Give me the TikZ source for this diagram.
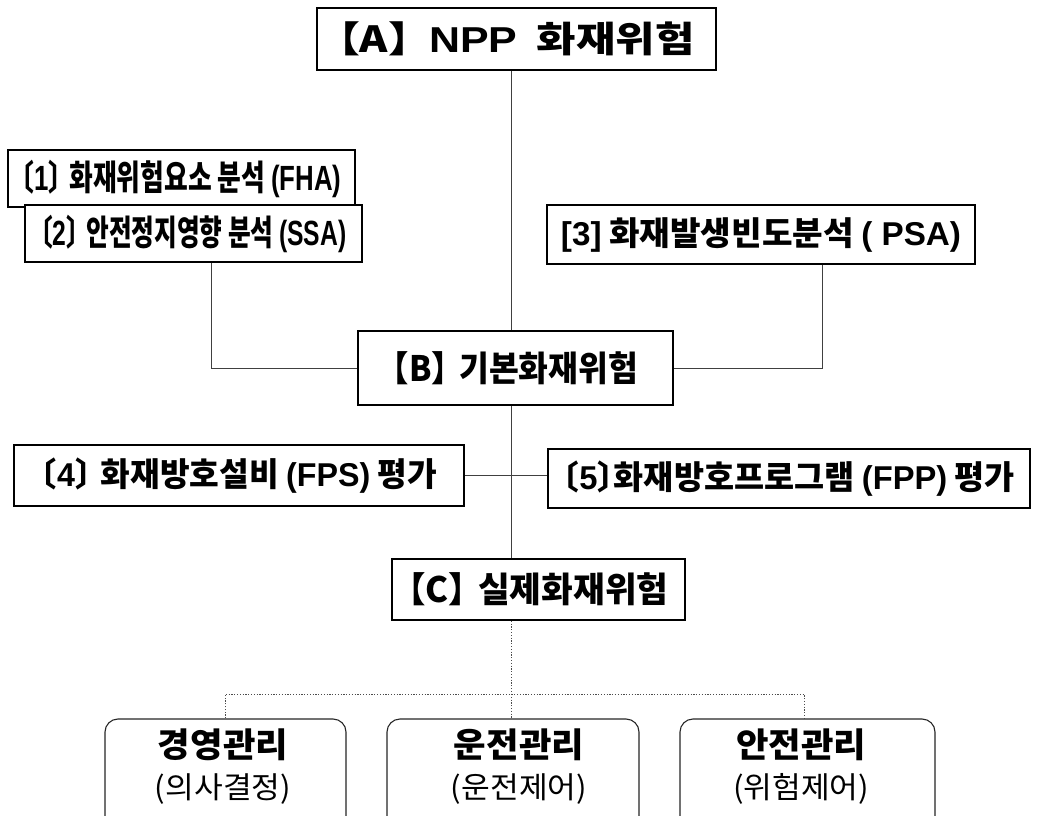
\documentclass[tikz,border=0pt]{standalone}
\usepackage{fontspec}
\usepackage{graphicx}
\setmainfont{Noto Sans CJK KR}[RawFeature=+halt]
\newfontfamily\la{Liberation Sans}
\newcommand{\fitw}[2]{\resizebox{#1}{\height}{#2}}
\begin{document}
\begin{tikzpicture}[x=1pt,y=-1pt,
  box/.style={draw, line width=1.6pt, fill=white, inner sep=0pt, font=\bfseries\fontsize{33}{38}\selectfont},
  tallbox/.style={box, font=\bfseries\fontsize{35}{40}\selectfont},
  bigbox/.style={box, font=\bfseries\fontsize{36}{42}\selectfont},
  midbox/.style={box, font=\bfseries\fontsize{35}{40}\selectfont},
  mbox/.style={draw, line width=1.1pt, black!85, rounded corners=13pt, fill=white, inner sep=0pt},
  mtitle/.style={inner sep=0pt, font=\bfseries\fontsize{34}{40}\selectfont},
  msub/.style={inner sep=0pt, font=\fontsize{30}{36}\selectfont},
  conn/.style={line width=0.7pt, black!75},
  dotc/.style={line width=0.7pt, black!70, dash pattern=on 1.2pt off 1.6pt}]
\useasboundingbox (0,0) rectangle (1037,816);
\clip (0,0) rectangle (1037,816);
% trunk coordinates
\coordinate (t) at (511,0);
\coordinate (l2) at (211,0);
\coordinate (r3) at (822,0);
\coordinate (hl) at (225,694);
\coordinate (hm) at (511,694);
\coordinate (hr) at (804,694);
% nodes
\node[bigbox, minimum width=399pt, minimum height=62pt] (A) at (516.5,39) {\fitw{356pt}{【A】\hspace{0.45em}{\la NPP}\hspace{0.45em}화재위험}};
\node[tallbox, minimum width=347pt, minimum height=57pt] (S1) at (181.5,178.5) {\fitw{320pt}{〔{\la 1}〕\hspace{0.3em}화재위험요소 분석 {\la (FHA)}}};
\node[tallbox, minimum width=337pt, minimum height=57pt] (S2) at (193.5,233.5) {\fitw{306pt}{〔{\la 2}〕\hspace{0.3em}안전정지영향 분석 {\la (SSA)}}};
\node[box, minimum width=428pt, minimum height=59pt] (S3) at (761,234.5) {\fitw{400pt}{{\la [3]} 화재발생빈도분석 {\la ( PSA)}}};
\node[midbox, minimum width=315pt, minimum height=74pt] (B) at (515.5,368) {\fitw{245pt}{【B】\hspace{0.35em}기본화재위험}};
\node[box, minimum width=450pt, minimum height=61pt] (F4) at (239,475.5) {\fitw{396pt}{〔{\la 4}〕\hspace{0.3em}화재방호설비 {\la (FPS)} 평가}};
\node[box, minimum width=482pt, minimum height=59pt] (F5) at (789,478.5) {\fitw{452pt}{〔{\la 5}〕화재방호프로그램 {\la (FPP)} 평가}};
\node[midbox, minimum width=293pt, minimum height=61pt] (C) at (538.5,589.5) {\fitw{260pt}{【C】\hspace{0.35em}실제화재위험}};
\node[mbox, minimum width=241pt, minimum height=112pt] (M1) at (225.5,775) {};
\node[mbox, minimum width=252pt, minimum height=112pt] (M2) at (513,775) {};
\node[mbox, minimum width=255pt, minimum height=112pt] (M3) at (807.5,775) {};
\node[mtitle] (M1t) at (223,745) {\fitw{130pt}{경영관리}};
\node[msub] (M1s) at (223,789) {\fitw{136pt}{(의사결정)}};
\node[mtitle] (M2t) at (519,745) {\fitw{130pt}{운전관리}};
\node[msub] (M2s) at (519,789) {\fitw{136pt}{(운전제어)}};
\node[mtitle] (M3t) at (801,745) {\fitw{130pt}{안전관리}};
\node[msub] (M3s) at (801,789) {\fitw{136pt}{(위험제어)}};
% connectors
\draw[conn] (A.south -| t) -- (B.north -| t);
\draw[conn] (B.south -| t) -- (C.north -| t);
\draw[conn] (S2.south -| l2) |- (B.west);
\draw[conn] (S3.south -| r3) |- (B.east);
\draw[conn] (F4.east) -- (F4.east -| F5.west);
\draw[dotc] (C.south -| t) -- (hm);
\draw[dotc] (M1.north -| hl) -- (hl) -- (hr) -- (M3.north -| hr);
\draw[dotc] (hm) -- (M2.north -| hm);
\end{tikzpicture}
\end{document}
